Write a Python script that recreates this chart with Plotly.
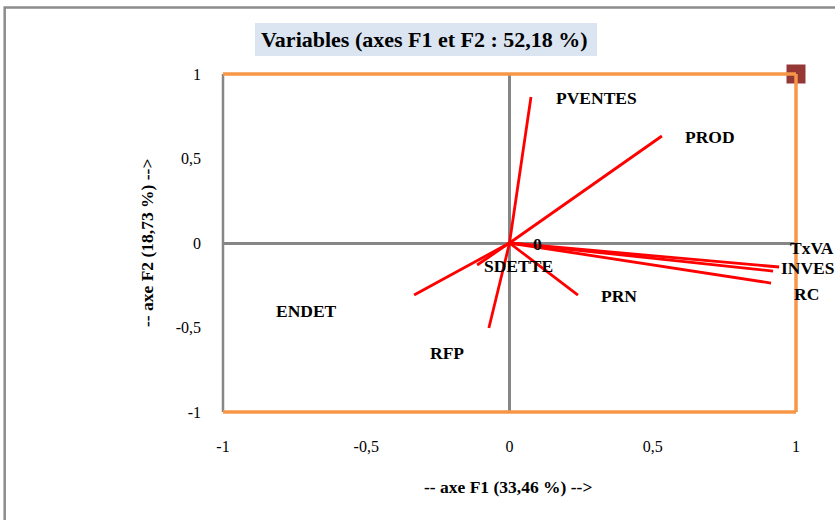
import plotly.graph_objects as go

# ---- data ----
variables = ["PVENTES", "PROD", "TxVA", "INVES", "RC", "PRN", "ENDET", "RFP", "SDETTE"]
f1 = [0.075, 0.532, 0.941, 0.920, 0.913, 0.239, -0.333, -0.072, -0.113]
f2 = [0.864, 0.633, -0.142, -0.166, -0.237, -0.308, -0.308, -0.503, -0.130]

# label anchors (where the names are written, in axis units)
label_text = ["PVENTES", "PROD", "TxVA", "INVES", "RC", "PRN", "ENDET", "RFP", "SDETTE", "0"]
label_x = [0.302, 0.700, 1.056, 1.042, 1.035, 0.382, -0.707, -0.218, 0.030, 0.096]
label_y = [0.858, 0.627, -0.030, -0.148, -0.302, -0.314, -0.402, -0.651, -0.136, -0.006]

tick_vals = [-1, -0.5, 0, 0.5, 1]
tick_text = ["-1", "-0,5", "0", "0,5", "1"]

title = "Variables (axes F1 et F2 : 52,18 %)"
x_title = "-- axe F1 (33,46 %) -->"
y_title = "-- axe F2 (18,73 %) -->"

X_RANGE = [-1, 1]
Y_RANGE = [-1, 1]

FONT = "Liberation Serif, Times New Roman, serif"

# build vector segments
vx, vy = [], []
for a, b in zip(f1, f2):
    vx += [0, a, None]
    vy += [0, b, None]

fig = go.Figure()
fig.add_trace(go.Scatter(x=vx, y=vy, mode="lines",
                         line=dict(color="#FF0000", width=2.8),
                         hoverinfo="skip", showlegend=False))
fig.add_trace(go.Scatter(x=[1], y=[1], mode="markers",
                         marker=dict(symbol="square", size=19, color="#953735"),
                         cliponaxis=False, showlegend=False, hoverinfo="skip"))

# frame shapes
shapes = [
    dict(type="rect", xref="paper", yref="paper", x0=-0.381, x1=1.5, y0=-0.6, y1=1.197,
         line=dict(color="#8C8C8C", width=2.5), fillcolor="rgba(0,0,0,0)", layer="below"),
    dict(type="rect", xref="paper", yref="paper", x0=0.0558, x1=0.6527, y0=1.0533, y1=1.1509,
         line=dict(width=0), fillcolor="#DBE5F1", layer="below"),
    dict(type="line", xref="paper", yref="paper", x0=0, x1=0, y0=0, y1=1,
         line=dict(color="#868686", width=2.5), layer="above"),
    dict(type="line", xref="paper", yref="paper", x0=0, x1=1, y0=1, y1=1,
         line=dict(color="#F79646", width=3.5), layer="above"),
    dict(type="line", xref="paper", yref="paper", x0=1, x1=1, y0=0, y1=1,
         line=dict(color="#F79646", width=3.5), layer="above"),
    dict(type="line", xref="paper", yref="paper", x0=0, x1=1, y0=0, y1=0,
         line=dict(color="#F79646", width=3.5), layer="above"),
]

annotations = [
    dict(text="<b>" + title + "</b>", xref="paper", yref="paper", x=0.3525, y=1.101,
         showarrow=False, xanchor="center", yanchor="middle",
         font=dict(family=FONT, size=22, color="#000000")),
    dict(text="<b>" + x_title + "</b>", xref="paper", yref="paper", x=0.497, y=-0.222,
         showarrow=False, xanchor="center", yanchor="middle",
         font=dict(family=FONT, size=17.5, color="#000000")),
    dict(text="<b>" + y_title + "</b>", xref="paper", yref="paper", x=-0.1326, y=0.5,
         showarrow=False, xanchor="center", yanchor="middle", textangle=-90,
         font=dict(family=FONT, size=17.5, color="#000000")),
]
# labels: placed through the (linear) axis mapping so those beyond the range still show
for t, lx, ly in zip(label_text, label_x, label_y):
    annotations.append(dict(text="<b>" + t + "</b>",
                            x=(lx - X_RANGE[0]) / (X_RANGE[1] - X_RANGE[0]),
                            y=(ly - Y_RANGE[0]) / (Y_RANGE[1] - Y_RANGE[0]),
                            xref="paper", yref="paper",
                            showarrow=False, xanchor="center", yanchor="middle",
                            font=dict(family=FONT, size=17.5, color="#000000")))

fig.update_layout(
    width=835, height=520,
    margin=dict(l=223, r=39, t=74, b=108, pad=0),
    paper_bgcolor="white", plot_bgcolor="white",
    shapes=shapes, annotations=annotations,
    showlegend=False,
    xaxis=dict(range=X_RANGE, tickvals=tick_vals, ticktext=tick_text,
               showgrid=False, zeroline=True, zerolinecolor="#868686", zerolinewidth=2.5,
               showline=False, ticks="", ticklabelstandoff=23,
               tickfont=dict(family=FONT, size=16, color="#000000"), fixedrange=True),
    yaxis=dict(range=Y_RANGE, tickvals=tick_vals, ticktext=tick_text,
               showgrid=False, zeroline=True, zerolinecolor="#868686", zerolinewidth=2.5,
               showline=False, ticks="", ticklabelstandoff=21,
               tickfont=dict(family=FONT, size=16, color="#000000"), fixedrange=True),
)

fig.write_html("out.html")
